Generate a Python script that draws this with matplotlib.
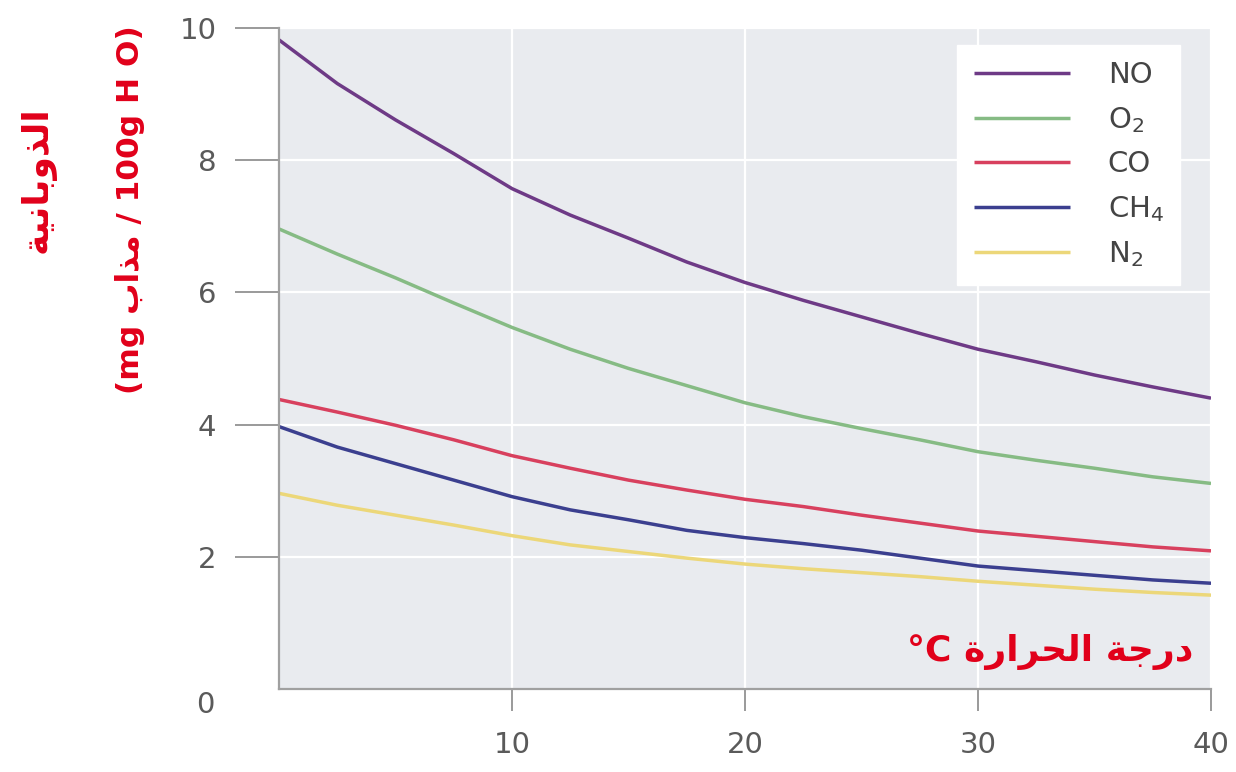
import matplotlib
matplotlib.use("Agg")
import matplotlib.pyplot as plt

# ---- data ----
temperature = [0, 2.5, 5, 7.5, 10, 12.5, 15, 17.5, 20, 22.5, 25, 27.5, 30, 32.5, 35, 37.5, 40]
no_vals  = [9.82, 9.16, 8.61, 8.10, 7.57, 7.17, 6.82, 6.46, 6.15, 5.88, 5.63, 5.38, 5.14, 4.95, 4.75, 4.57, 4.40]
o2_vals  = [6.96, 6.58, 6.22, 5.84, 5.47, 5.14, 4.85, 4.59, 4.33, 4.12, 3.94, 3.77, 3.59, 3.46, 3.34, 3.21, 3.11]
co_vals  = [4.38, 4.19, 3.99, 3.77, 3.53, 3.34, 3.16, 3.01, 2.87, 2.76, 2.63, 2.51, 2.39, 2.31, 2.23, 2.15, 2.09]
ch4_vals = [3.97, 3.66, 3.41, 3.16, 2.91, 2.71, 2.56, 2.40, 2.29, 2.20, 2.10, 1.98, 1.86, 1.79, 1.72, 1.65, 1.60]
n2_vals  = [2.96, 2.78, 2.63, 2.48, 2.32, 2.18, 2.08, 1.98, 1.89, 1.82, 1.76, 1.70, 1.63, 1.57, 1.51, 1.46, 1.42]

series_labels = ["NO", "O$_2$", "CO", "CH$_4$", "N$_2$"]
series_colors = ["#6e3a86", "#86bb84", "#d8405e", "#3b3f8f", "#ecd779"]

x_ticks = [10, 20, 30, 40]
y_ticks = [2, 4, 6, 8, 10]

# Arabic text written in visual order with presentation forms
ylabel_line1 = "\uFE94\uFEF4\uFEE7\uFE8E\uFE91\uFEED\uFEAC\uFEDF\uFE8D"          # الذوبانية
ylabel_line2 = "(mg \uFE8F\uFE8D\uFEAC\uFEE3 / 100g H O)"                        # (mg مذاب / 100g H O)
xlabel_text = "\u00b0C \uFE93\uFEAD\uFE8D\uFEAE\uFEA4\uFEDF\uFE8D \uFE94\uFE9F\uFEAD\uFEA9"  # درجة الحرارة °C

plt.rcParams['font.family'] = ['DejaVu Sans']
plt.rcParams['mathtext.fontset'] = 'dejavusans'

W, H = 1236, 772
fig = plt.figure(figsize=(W / 100, H / 100), dpi=100)
fig.patch.set_facecolor("white")

left, right, top, bottom = 279, 1211, 28, 689
ax = fig.add_axes([left / W, 1 - bottom / H, (right - left) / W, (bottom - top) / H])
ax.set_facecolor("#e9ebef")
ax.set_xlim(0, 40)
ax.set_ylim(0, 10)

all_series = [no_vals, o2_vals, co_vals, ch4_vals, n2_vals]
for vals, lab, col in zip(all_series, series_labels, series_colors):
    ax.plot(temperature, vals, color=col, lw=2.5, label=lab, solid_capstyle="butt")

ax.set_xticks(x_ticks)
ax.set_yticks(y_ticks)
ax.set_xticklabels([str(v) for v in x_ticks])
ax.set_yticklabels([str(v) for v in y_ticks])
ax.grid(True, color="white", lw=1.6)
ax.set_axisbelow(True)

for s in ["top", "right"]:
    ax.spines[s].set_visible(False)
for s in ["left", "bottom"]:
    ax.spines[s].set_color("#a0a0a0")
    ax.spines[s].set_linewidth(1.6)

ax.tick_params(axis="y", length=32, width=1.4, color="#9a9a9a", pad=13,
               labelsize=21, labelcolor="#5a5a5a")
ax.tick_params(axis="x", length=16, width=1.4, color="#9a9a9a", pad=14,
               labelsize=21, labelcolor="#5a5a5a")

fig.text(205 / W, 1 - 705 / H, "0", fontsize=21, color="#5a5a5a",
         ha="center", va="center")

leg = ax.legend(loc="upper right", bbox_to_anchor=(1180 / W, 1 - 45 / H),
                bbox_transform=fig.transFigure, borderaxespad=0,
                fontsize=21, frameon=True, fancybox=False,
                handlelength=3.3, handletextpad=1.3, labelspacing=0.54,
                borderpad=0.55)
leg.get_frame().set_facecolor("white")
leg.get_frame().set_edgecolor("white")
leg.get_frame().set_alpha(1)
for t in leg.get_texts():
    t.set_color("#444444")

red = "#e1001a"
fig.text(38 / W, 1 - 180 / H, ylabel_line1, rotation=90, fontsize=26,
         fontweight="bold", color=red, ha="center", va="center")
fig.text(130 / W, 1 - 210 / H, ylabel_line2, rotation=90, fontsize=22.5,
         fontweight="bold", color=red, ha="center", va="center")
fig.text(1050 / W, 1 - 652 / H, xlabel_text, fontsize=26,
         fontweight="bold", color=red, ha="center", va="center")

fig.savefig("out.png", dpi=100, facecolor="white")
